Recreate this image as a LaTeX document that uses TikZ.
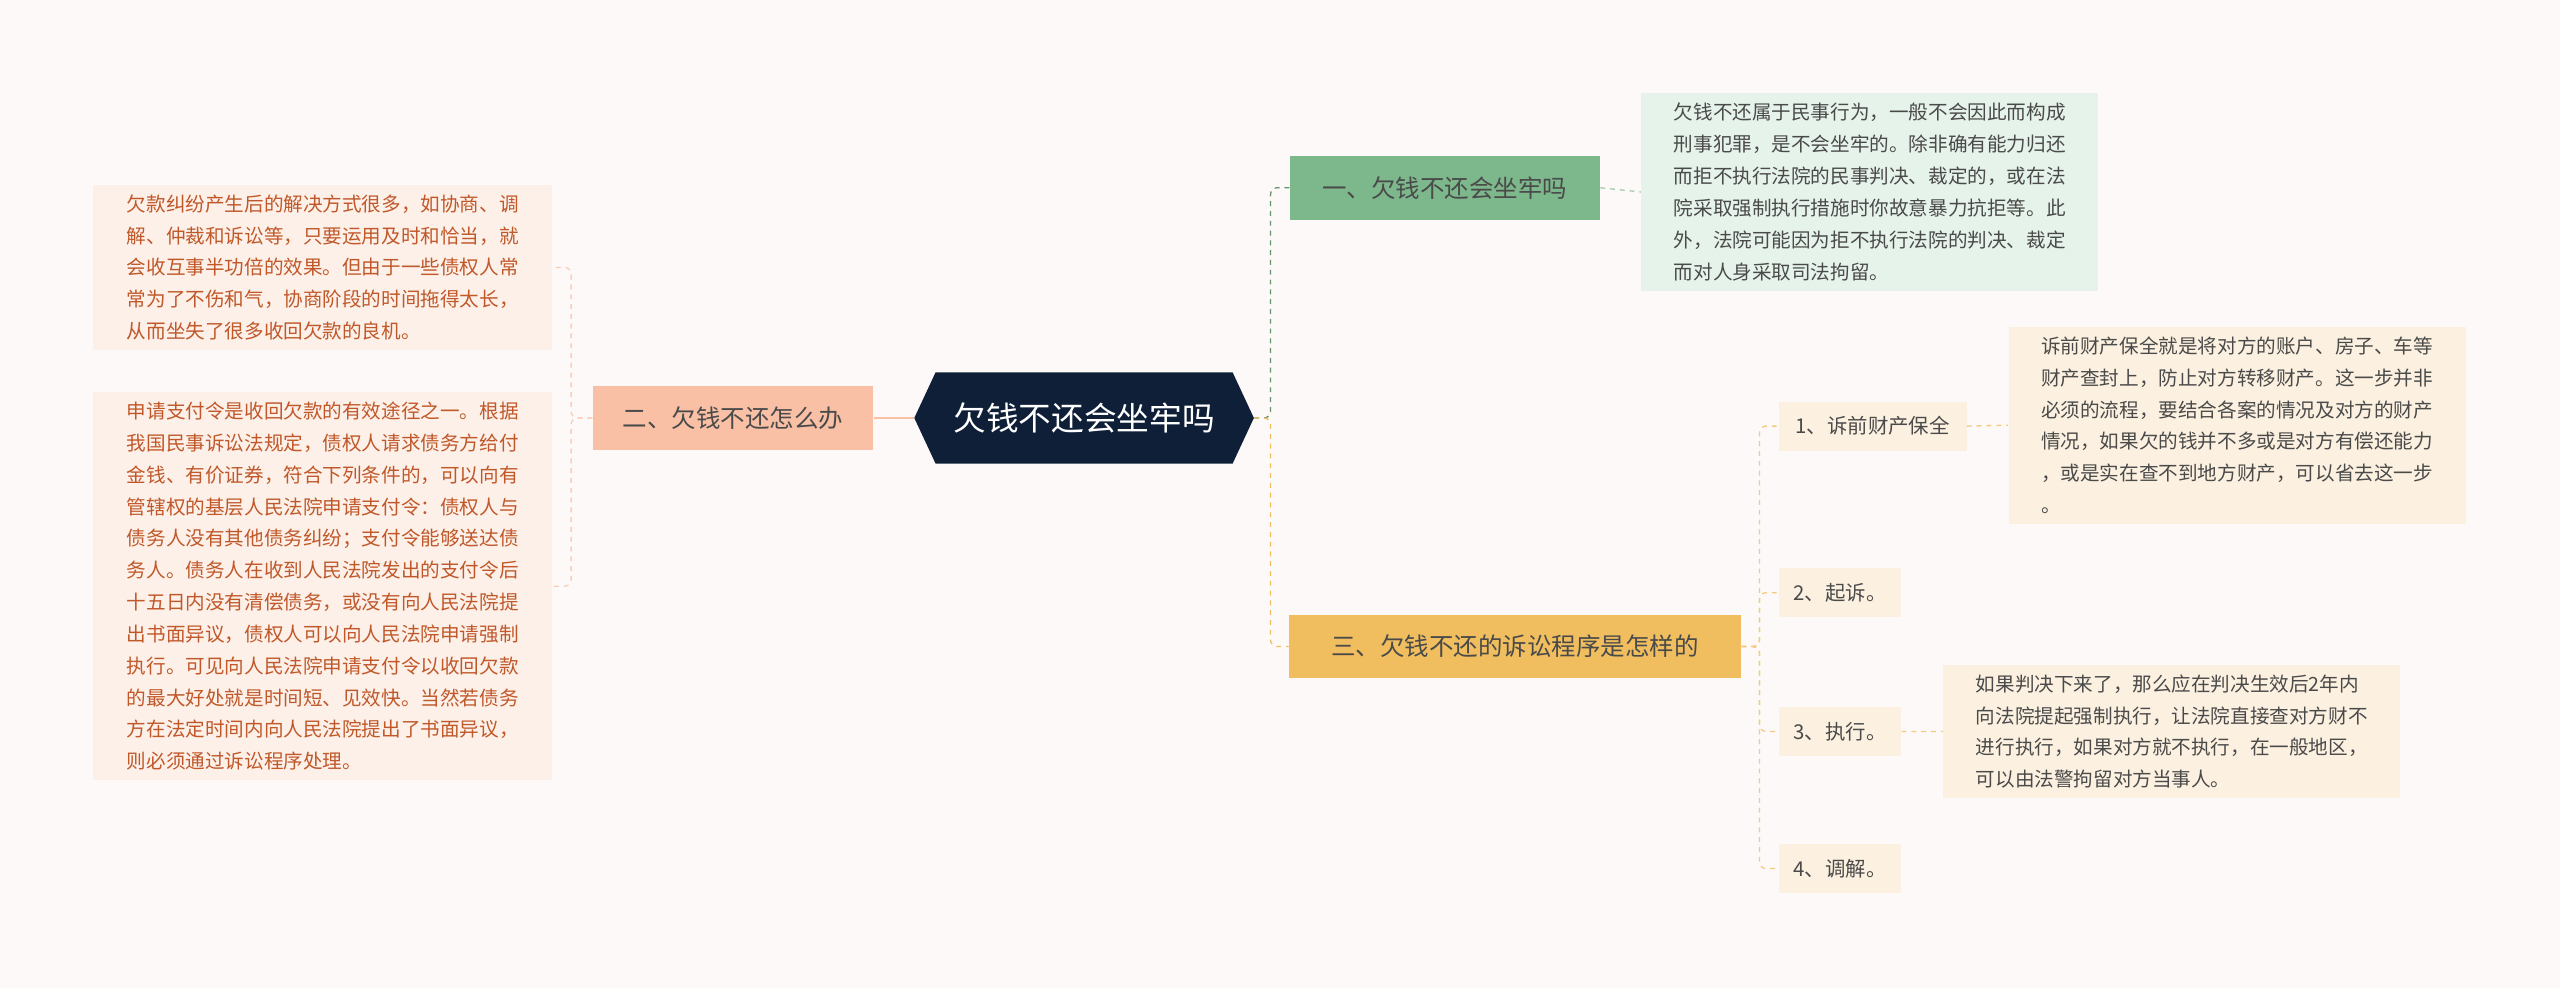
\documentclass[tikz,border=0pt]{standalone}
\usepackage{fontspec}
\setmainfont{Noto Sans CJK SC}
\usetikzlibrary{positioning,shapes.symbols}
\definecolor{bgcol}{HTML}{FDF9F8}
\definecolor{rootcol}{HTML}{0F1F38}
\definecolor{greencol}{HTML}{7DB88C}
\definecolor{greenleaf}{HTML}{E6F3EA}
\definecolor{salmoncol}{HTML}{F9C0A5}
\definecolor{salmonleaf}{HTML}{FDF0E8}
\definecolor{salmontext}{HTML}{C0582A}
\definecolor{goldcol}{HTML}{F0BE5E}
\definecolor{goldleaf}{HTML}{FCF1E0}
\definecolor{textcol}{HTML}{4A4A4A}
\tikzset{
  branch/.style={rectangle, inner sep=0pt, minimum height=39pt, font=\fontsize{15}{18}\selectfont, text=textcol},
  leaf/.style={rectangle, inner sep=6pt, align=left, anchor=north west, font=\fontsize{12}{19.5}\selectfont, text=textcol},
  stepbox/.style={rectangle, inner sep=0pt, minimum height=30pt, font=\fontsize{12.5}{15}\selectfont, fill=goldleaf, text=textcol},
  link/.style={dashed, line width=0.8pt}
}
\begin{document}
\begin{tikzpicture}[x=1pt,y=-1pt]
  \fill[bgcol] (0,0) rectangle (1568,605);
  \useasboundingbox (0,0) rectangle (1568,605);

  % centre
  \node (Root) [signal, signal to=east and west, signal pointer angle=130, fill=rootcol,
        text=white, minimum width=208pt, minimum height=56pt, inner sep=0pt,
        font=\fontsize{20}{24}\selectfont] at (664,256) {欠钱不还会坐牢吗};

  % right side
  \node (Jail) [branch, fill=greencol, minimum width=190pt] at (885,115) {一、欠钱不还会坐牢吗};
  \node (JailTxt) [leaf, fill=greenleaf, minimum width=280pt] at (1005,57) {%
    欠钱不还属于民事行为，一般不会因此而构成\\
    刑事犯罪，是不会坐牢的。除非确有能力归还\\
    而拒不执行法院的民事判决、裁定的，或在法\\
    院采取强制执行措施时你故意暴力抗拒等。此\\
    外，法院可能因为拒不执行法院的判决、裁定\\
    而对人身采取司法拘留。};

  \node (Proc) [branch, fill=goldcol, minimum width=277pt] at (928,396) {三、欠钱不还的诉讼程序是怎样的};
  \node (S1) [stepbox, minimum width=115pt] at (1147,261) {1、诉前财产保全};
  \node (S2) [stepbox, minimum width=75pt] at (1127,363) {2、起诉。};
  \node (S3) [stepbox, minimum width=75pt] at (1127,448) {3、执行。};
  \node (S4) [stepbox, minimum width=75pt] at (1127,532) {4、调解。};
  \node (S1Txt) [leaf, fill=goldleaf, minimum width=280pt] at (1230,200) {%
    诉前财产保全就是将对方的账户、房子、车等\\
    财产查封上，防止对方转移财产。这一步并非\\
    必须的流程，要结合各案的情况及对方的财产\\
    情况，如果欠的钱并不多或是对方有偿还能力\\
    ，或是实在查不到地方财产，可以省去这一步\\
    。};
  \node (S3Txt) [leaf, fill=goldleaf, minimum width=280pt] at (1190,407) {%
    如果判决下来了，那么应在判决生效后2年内\\
    向法院提起强制执行，让法院直接查对方财不\\
    进行执行，如果对方就不执行，在一般地区，\\
    可以由法警拘留对方当事人。};

  % left side
  \node (How) [branch, fill=salmoncol, minimum width=172pt] at (449,256) {二、欠钱不还怎么办};
  \node (HowA) [leaf, fill=salmonleaf, text=salmontext, minimum width=281pt] at (57,113) {%
    欠款纠纷产生后的解决方式很多，如协商、调\\
    解、仲裁和诉讼等，只要运用及时和恰当，就\\
    会收互事半功倍的效果。但由于一些债权人常\\
    常为了不伤和气，协商阶段的时间拖得太长，\\
    从而坐失了很多收回欠款的良机。};
  \node (HowB) [leaf, fill=salmonleaf, text=salmontext, minimum width=281pt] at (57,240) {%
    申请支付令是收回欠款的有效途径之一。根据\\
    我国民事诉讼法规定，债权人请求债务方给付\\
    金钱、有价证券，符合下列条件的，可以向有\\
    管辖权的基层人民法院申请支付令：债权人与\\
    债务人没有其他债务纠纷；支付令能够送达债\\
    务人。债务人在收到人民法院发出的支付令后\\
    十五日内没有清偿债务，或没有向人民法院提\\
    出书面异议，债权人可以向人民法院申请强制\\
    执行。可见向人民法院申请支付令以收回欠款\\
    的最大好处就是时间短、见效快。当然若债务\\
    方在法定时间内向人民法院提出了书面异议，\\
    则必须通过诉讼程序处理。};

  % connectors
  \draw[greencol!80!black, link, rounded corners=4pt] (Root.east) -- ++(10,0) |- (Jail.west);
  \draw[goldcol, link, rounded corners=4pt] (Root.east) -- ++(10,0) |- (Proc.west);
  \draw[salmoncol, line width=1pt] (Root.west) -- (How.east);
  \draw[greencol!70, link] (Jail.east) -- (JailTxt.west);
  \draw[salmoncol!80, link, rounded corners=4pt] (How.west) -- ++(-13,0) |- (HowA.east);
  \draw[salmoncol!80, link, rounded corners=4pt] (How.west) -- ++(-13,0) |- (HowB.east);
  \foreach \s in {S1,S2,S3,S4}
    \draw[goldcol!80, link, rounded corners=4pt] (Proc.east) -- ++(11,0) |- (\s.west);
  \draw[goldcol!80, link] (S1.east) -- (S1Txt.west);
  \draw[goldcol!80, link] (S3.east) -- (S3Txt.west);
\end{tikzpicture}
\end{document}
